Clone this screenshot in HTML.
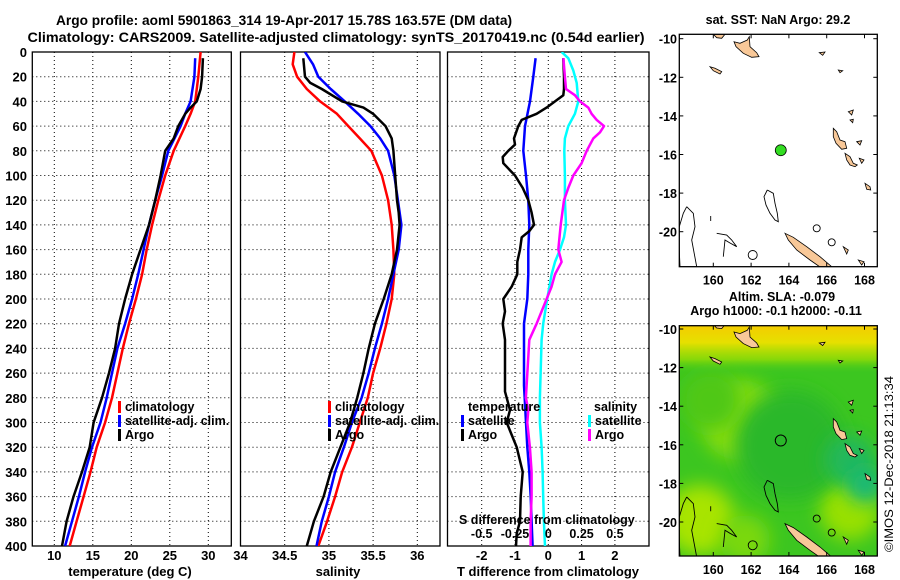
<!DOCTYPE html>
<html><head><meta charset="utf-8"><style>
html,body{margin:0;padding:0;background:#fff;}
svg{display:block;font-family:"Liberation Sans",Arial,sans-serif;font-weight:bold;}
</style></head><body>
<svg id="fig" width="900" height="580" viewBox="0 0 900 580" xmlns="http://www.w3.org/2000/svg">
<defs>
<clipPath id="c1"><rect x="32.3" y="52" width="199" height="494"/></clipPath>
<clipPath id="c2"><rect x="240.5" y="52" width="199.5" height="494"/></clipPath>
<clipPath id="c3"><rect x="447.5" y="52" width="201.5" height="494"/></clipPath>
<clipPath id="m1"><rect x="679.3" y="34.3" width="198" height="232.4"/></clipPath>
<clipPath id="m2"><rect x="679.3" y="325.7" width="198" height="230.3"/></clipPath>
<filter id="blur" x="-50%" y="-50%" width="200%" height="200%"><feGaussianBlur stdDeviation="9"/></filter>
<linearGradient id="topgrad" x1="0" y1="0" x2="0" y2="1">
<stop offset="0" stop-color="#f4cc00"/><stop offset="0.35" stop-color="#e6e000"/><stop offset="0.7" stop-color="#a8e000" stop-opacity="0.7"/><stop offset="1" stop-color="#3cc81e" stop-opacity="0"/>
</linearGradient>
</defs>
<text x="284" y="25" text-anchor="middle" font-size="14" textLength="456" lengthAdjust="spacingAndGlyphs">Argo profile: aoml 5901863_314 19-Apr-2017 15.78S 163.57E (DM data)</text>
<text x="336" y="42" text-anchor="middle" font-size="14" textLength="617" lengthAdjust="spacingAndGlyphs">Climatology: CARS2009. Satellite-adjusted climatology: synTS_20170419.nc (0.54d earlier)</text>
<g id="p1"></g>
<g id="p2"></g>
<g id="p3"></g>
<g id="maps"></g>
<text transform="translate(893,552) rotate(-90)" font-size="12" font-weight="normal" textLength="176" lengthAdjust="spacingAndGlyphs">©IMOS 12-Dec-2018 21:13:34</text>
</svg>
<script>
// ---- data ----
const tClimDepth=[0,20,40,50,60,80,100,120,140,160,180,200,220,240,260,280,300,320,340,360,380,400];
const tClimVal=[29.0,28.7,28.3,27.7,27.0,25.5,24.4,23.5,22.7,22.0,21.4,20.6,19.7,18.9,18.2,17.5,16.6,15.5,14.7,13.8,12.9,12.0];
const tSatDepth=[5,20,40,50,60,80,100,120,140,160,180,200,220,240,260,280,300,320,340,360,380,400];
const tSatVal=[28.3,28.2,27.7,27.0,26.4,24.8,24.0,23.1,22.3,21.6,20.9,20.1,19.2,18.2,17.5,16.8,16.0,14.9,14.0,13.2,12.3,11.4];
const tArgoDepth=[5,20,30,40,45,50,60,70,80,90,100,120,140,160,180,200,220,240,260,280,300,320,340,360,380,400];
const tArgoVal=[29.3,29.2,29.0,28.5,27.7,27.0,26.1,25.5,24.4,24.1,23.8,23.1,22.3,21.2,20.1,19.2,18.4,17.9,17.1,16.2,15.1,14.6,13.6,12.5,11.6,11.0];
const sClimDepth=[0,10,20,30,40,50,60,70,80,100,120,140,160,180,200,220,240,260,280,300,320,340,360,380,400];
const sClimVal=[34.61,34.59,34.64,34.75,34.90,35.09,35.22,35.35,35.48,35.60,35.67,35.71,35.73,35.74,35.71,35.65,35.58,35.50,35.44,35.35,35.26,35.15,35.07,34.98,34.88];
const sSatDepth=[0,10,20,30,40,50,60,70,80,100,120,140,160,180,200,220,240,260,280,300,320,340,360,380,400];
const sSatVal=[34.73,34.82,34.88,35.02,35.18,35.33,35.47,35.58,35.67,35.74,35.78,35.82,35.79,35.73,35.67,35.60,35.52,35.45,35.37,35.26,35.17,35.07,35.00,34.92,34.86];
const sArgoDepth=[5,20,25,30,40,45,50,60,70,80,100,120,130,140,160,180,200,220,240,260,280,300,320,340,360,380,400];
const sArgoVal=[34.71,34.73,34.79,34.92,35.15,35.39,35.50,35.64,35.71,35.73,35.75,35.77,35.79,35.80,35.77,35.71,35.62,35.52,35.45,35.39,35.32,35.24,35.13,35.02,34.94,34.83,34.75];
const dtSatDepth=[5,20,40,60,80,100,120,140,160,180,200,220,230,270,300,320,340,360,380,400];
const dtSatVal=[-0.38,-0.45,-0.55,-0.70,-0.75,-0.67,-0.60,-0.57,-0.60,-0.60,-0.63,-0.73,-0.73,-0.73,-0.67,-0.63,-0.57,-0.53,-0.50,-0.47];
const dtArgoDepth=[5,20,30,35,40,45,50,55,60,70,75,80,85,90,100,110,120,130,140,145,150,160,170,180,190,200,210,220,233,275,290,300,310,320,340,360,380,390,400];
const dtArgoVal=[0.45,0.47,0.47,0.45,0.20,-0.05,-0.35,-0.80,-0.90,-1.03,-1.00,-1.20,-1.37,-1.35,-1.00,-0.77,-0.60,-0.50,-0.43,-0.57,-0.80,-0.85,-0.93,-0.93,-1.10,-1.35,-1.30,-1.37,-1.30,-1.30,-1.15,-1.25,-1.10,-0.95,-0.77,-0.83,-0.85,-0.95,-0.97];
const dsSatDepth=[0,5,15,25,40,50,60,70,80,100,120,140,150,160,170,180,200,220,233,280,300,320,340,360,380,400];
const dsSatVal=[0.100,0.150,0.188,0.213,0.225,0.200,0.150,0.125,0.120,0.125,0.125,0.133,0.118,0.088,0.050,0.025,-0.008,-0.038,-0.050,-0.063,-0.063,-0.050,-0.043,-0.038,-0.033,-0.025];
const dsArgoDepth=[5,20,30,35,40,45,50,55,60,65,70,80,90,100,110,120,140,160,170,180,190,200,210,220,233,280,290,300,320,340,360,380,400];
const dsArgoVal=[0.113,0.125,0.133,0.200,0.238,0.300,0.325,0.363,0.418,0.388,0.338,0.288,0.250,0.188,0.150,0.118,0.093,0.075,0.100,0.050,0.025,-0.013,-0.050,-0.088,-0.143,-0.168,-0.150,-0.158,-0.138,-0.125,-0.125,-0.133,-0.133];
const depthTicks=[0,20,40,60,80,100,120,140,160,180,200,220,240,260,280,300,320,340,360,380,400];
const tTicks=[10,15,20,25,30];
const sTicks=[34,34.5,35,35.5,36];
const dtTicks=[-2,-1,0,1,2];
const dsTicks=[-0.5,-0.25,0,0.25,0.5];
const dsTickLabels=["-0.5","-0.25","0","0.25","0.5"];
const lonTicks=[160,162,164,166,168];
const latTicks=[-10,-12,-14,-16,-18,-20];
const argoLon=163.57, argoLat=-15.78;

// ---- scales ----
const NS="http://www.w3.org/2000/svg";
const Y0=52,Y1=546;
const yD=d=>Y0+(d/400)*(Y1-Y0);
const xT=t=>54.3+(t-10)*7.7;
const xS=s=>240.5+(s-34)*88.4;
const xDT=v=>548.3+v*33.3;
const xDS=v=>548.3+v*133.2;
const lonX=l=>713.3+(l-160)*18.9;
const latY=(la,off)=>38.7+off+(-10-la)*19.3;

function el(tag,attrs,parent,txt){const e=document.createElementNS(NS,tag);for(const k in attrs)e.setAttribute(k,attrs[k]);if(txt!==undefined)e.textContent=txt;parent.appendChild(e);return e;}

function frame(g,x0,x1,showY){
  el('rect',{x:x0,y:Y0,width:x1-x0,height:Y1-Y0,fill:'none',stroke:'#000','stroke-width':1.3},g);
  depthTicks.forEach(d=>{
    if(d>0&&d<400){
      const gl=el('line',{x1:x0,x2:x1,y1:yD(d),y2:yD(d),stroke:'#000','stroke-width':1,'stroke-dasharray':'1,3'},g);
      
      
    }
    if(showY){
      const t=el('text',{x:27,y:yD(d)+5,'text-anchor':'end','font-size':13},g,String(d));
      
      
    }
  });
}
function vgrid(g,xs,fn,labels,ly){
  xs.forEach((v,i)=>{
    const x=fn(v);
    const gl=el('line',{x1:x,x2:x,y1:Y0,y2:Y1,stroke:'#000','stroke-width':1,'stroke-dasharray':'1,3'},g);
    
    
    if(labels){
      const t=el('text',{x:x,y:ly,'text-anchor':'middle','font-size':13},g,labels[i]);
      
      
    }
  });
}
function line(g,depths,vals,fn,color,name,clip){
  const pts=depths.map((d,i)=>fn(vals[i]).toFixed(1)+','+yD(d).toFixed(1)).join(' ');
  const p=el('polyline',{points:pts,fill:'none',stroke:color,'stroke-width':2.5,'stroke-linejoin':'round','clip-path':'url(#'+clip+')'},g);
  
  
}
function legend(g,x,y,color,label,name){
  el('rect',{x:x,y:y-10,width:3,height:12,fill:color},g);
  const t=el('text',{x:x+7,y:y,'font-size':12.5},g,label);
  
  
}

// panel 1
const p1=document.getElementById('p1');
frame(p1,32.3,231.3,true);
vgrid(p1,tTicks,xT,tTicks.map(String),560);
line(p1,tClimDepth,tClimVal,xT,'#ff0000','temp-climatology-line','c1');
line(p1,tSatDepth,tSatVal,xT,'#0000ff','temp-satellite-line','c1');
line(p1,tArgoDepth,tArgoVal,xT,'#000000','temp-argo-line','c1');
legend(p1,118,411,'#ff0000','climatology','legend-climatology');
legend(p1,118,425,'#0000ff','satellite-adj. clim.','legend-satellite');
legend(p1,118,439,'#000000','Argo','legend-argo');
let tt=el('text',{x:130,y:576,'text-anchor':'middle','font-size':13},p1,'temperature (deg C)');



// panel 2
const p2=document.getElementById('p2');
frame(p2,240.5,440,false);
vgrid(p2,sTicks,xS,sTicks.map(String),560);
line(p2,sClimDepth,sClimVal,xS,'#ff0000','sal-climatology-line','c2');
line(p2,sSatDepth,sSatVal,xS,'#0000ff','sal-satellite-line','c2');
line(p2,sArgoDepth,sArgoVal,xS,'#000000','sal-argo-line','c2');
legend(p2,328,411,'#ff0000','climatology','legend-climatology-2');
legend(p2,328,425,'#0000ff','satellite-adj. clim.','legend-satellite-2');
legend(p2,328,439,'#000000','Argo','legend-argo-2');
tt=el('text',{x:338,y:576,'text-anchor':'middle','font-size':13},p2,'salinity');



// panel 3
const p3=document.getElementById('p3');
frame(p3,447.5,649,false);
vgrid(p3,dtTicks,xDT,dtTicks.map(String),560);
line(p3,dtSatDepth,dtSatVal,xDT,'#0000ff','tdiff-satellite-line','c3');
line(p3,dtArgoDepth,dtArgoVal,xDT,'#000000','tdiff-argo-line','c3');
line(p3,dsSatDepth,dsSatVal,xDS,'#00ffff','sdiff-satellite-line','c3');
line(p3,dsArgoDepth,dsArgoVal,xDS,'#ff00ff','sdiff-argo-line','c3');
tt=el('text',{x:468,y:411,'font-size':12.5},p3,'temperature');


tt=el('text',{x:594,y:411,'font-size':12.5},p3,'salinity');


legend(p3,461,425,'#0000ff','satellite','legend-t-satellite');
legend(p3,461,439,'#000000','Argo','legend-t-argo');
legend(p3,588,425,'#00ffff','satellite','legend-s-satellite');
legend(p3,588,439,'#ff00ff','Argo','legend-s-argo');
tt=el('text',{x:459,y:524,'font-size':12.5},p3,'S difference from climatology');


dsTicks.forEach((v,i)=>{
  const t=el('text',{x:xDS(v),y:538,'text-anchor':'middle','font-size':12.5},p3,dsTickLabels[i]);
  
  
});
tt=el('text',{x:548,y:576,'text-anchor':'middle','font-size':13},p3,'T difference from climatology');



// maps
const maps=document.getElementById('maps');
const islands=[
[[734,41.7],[740,43.3],[747.3,40],[749.3,36.7],[750,46.7],[756.7,52.7],[759,56.7],[751.7,57.3],[743.3,53.3],[736,46.7]],
[[713.3,34.3],[725,34.3],[721.7,38.3],[716.7,37.7]],
[[710,66.7],[715,68.3],[721.7,71.7],[720,74],[713.3,70.7]],
[[833.3,128.3],[836.7,131.7],[840,140],[845,141.7],[846.7,148.3],[841.7,149.3],[836,143.3],[833.3,136.7]],
[[845,153.3],[850,156.7],[853.3,163.3],[857.3,165],[855,166.7],[850,165],[846.7,160]],
[[865,183.3],[870,186.7],[870.7,190],[866.7,189.3]],
[[856.7,141.7],[861.7,140.7],[860,145]],
[[859.3,158.3],[864,160],[861.7,163.3]],
[[848.3,111.7],[853.3,110],[851.7,115]],
[[850,120],[853.3,119.3],[852.7,122.7]],
[[819.3,52.7],[825,52],[822.7,55.3]],
[[838.3,70],[842.7,70.7],[840,72.7]],
[[843.3,246.7],[848.3,250],[846.7,254]],
[[858.3,260],[864,261.7],[861.7,265]],
[[785,233.3],[793.3,237.3],[806.7,246.7],[820,256.7],[831.7,266.7],[820,267],[810,260],[796.7,250],[788.3,240]]
];
const contours=[
[[686.7,206.7],[693.3,213.3],[695,226.7],[691.7,240],[696.7,266.7],[680,266.7],[678.3,230],[683.3,213.3],[686.7,206.7]],
[[767.3,190],[773.3,193.3],[775,203.3],[777.3,213.3],[778.3,221.7],[775,220],[770,213.3],[766,205],[764,196.7],[767.3,190]],
[[716.7,233.3],[726.7,235],[731.7,240],[736.7,246.7],[730,243],[725,240],[723.3,256.7]],
[[710.7,216],[710.7,221]]
];
const loops=[[752.7,255,4.5],[816.7,228.3,3.5],[831.7,242.3,3.5]];
function drawCoast(g,off){
  islands.forEach(poly=>{
    const p=el('polygon',{points:poly.map(q=>q[0]+','+(q[1]+off)).join(' '),fill:'#f8c898',stroke:'#000','stroke-width':0.8},g);
    
    
  });
  contours.forEach(poly=>{
    const p=el('polyline',{points:poly.map(q=>q[0]+','+(q[1]+off)).join(' '),fill:'none',stroke:'#000','stroke-width':0.9},g);
    
    
  });
  loops.forEach(c=>{
    const p=el('circle',{cx:c[0],cy:c[1]+off,r:c[2],fill:'none',stroke:'#000','stroke-width':0.9},g);
    
    
  });
}
function mapAxes(g,top,bot,off){
  el('rect',{x:679.3,y:top,width:198,height:bot-top,fill:'none',stroke:'#000','stroke-width':1.3},g);
  lonTicks.forEach(l=>{
    const x=lonX(l);
    el('line',{x1:x,x2:x,y1:top,y2:top+4,stroke:'#000'},g);
    el('line',{x1:x,x2:x,y1:bot,y2:bot-4,stroke:'#000'},g);
    const t=el('text',{x:x,y:bot+18,'text-anchor':'middle','font-size':12.5},g,String(l));
    
    
  });
  latTicks.forEach(la=>{
    const y=latY(la,off);
    el('line',{x1:877.3,x2:873.3,y1:y,y2:y,stroke:'#000'},g);
    el('line',{x1:679.3,x2:683.3,y1:y,y2:y,stroke:'#000'},g);
    const t=el('text',{x:677,y:y+5,'text-anchor':'end','font-size':12.5},g,String(la));
    
    
  });
}
// map 1
const g1=el('g',{'clip-path':'url(#m1)'},maps);


el('rect',{x:679.3,y:34.3,width:198,height:232.4,fill:'#fff'},g1);
drawCoast(g1,0);
const dot=el('circle',{cx:lonX(argoLon),cy:latY(argoLat,0),r:5.5,fill:'#33dd22',stroke:'#000','stroke-width':0.8},g1);


mapAxes(maps,34.3,266.7,0);
tt=el('text',{x:778,y:24,'text-anchor':'middle','font-size':12.5},maps,'sat. SST: NaN Argo: 29.2');


// map 2
const OFF=290.3;
const g2=el('g',{'clip-path':'url(#m2)'},maps);


el('rect',{x:679.3,y:325.7,width:198,height:230.3,fill:'#3cc620'},g2);
const blobs=[[740,420,40,'#88dd10'],[700,520,35,'#a8e400'],[850,510,30,'#98e000'],[790,445,55,'#2cb82c'],[850,460,25,'#22b85c'],[865,485,18,'#18b878'],[745,540,25,'#7ad810'],[710,400,30,'#50c818']];
blobs.forEach(b=>{
  const c=el('circle',{cx:b[0],cy:b[1],r:b[2],fill:b[3],filter:'url(#blur)'},g2);
  
  
});
el('rect',{x:679.3,y:325.7,width:198,height:48,fill:'url(#topgrad)'},g2);
drawCoast(g2,OFF);
const ring=el('circle',{cx:lonX(argoLon),cy:latY(argoLat,OFF),r:5.5,fill:'none',stroke:'#000','stroke-width':1},g2);


mapAxes(maps,325.7,556,OFF);
tt=el('text',{x:782,y:301,'text-anchor':'middle','font-size':12.5},maps,'Altim. SLA: -0.079');


tt=el('text',{x:776,y:315,'text-anchor':'middle','font-size':12.5},maps,'Argo h1000: -0.1 h2000: -0.11');


</script>
</body></html>
